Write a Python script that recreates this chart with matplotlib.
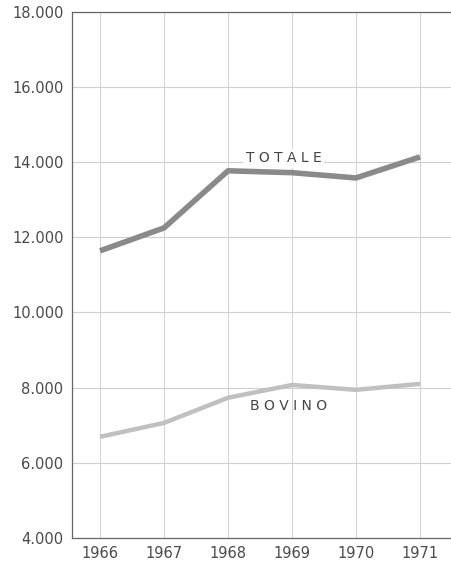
import numpy as np
import matplotlib
matplotlib.use('Agg')
import matplotlib.pyplot as plt

years = [1966, 1967, 1968, 1969, 1970, 1971]
totale = [11640, 12250, 13770, 13720, 13580, 14140]
bovino = [6690, 7060, 7730, 8070, 7940, 8100]
yticks = [4000, 6000, 8000, 10000, 12000, 14000, 16000, 18000]
ylabels = ['4.000', '6.000', '8.000', '10.000', '12.000', '14.000', '16.000', '18.000']

fig = plt.figure(figsize=(4.52, 5.65), dpi=100)
ax = fig.add_axes([0.159, 0.048, 0.841, 0.931])

# grid
for y in yticks:
    ax.axhline(y, color='#cfcfcf', lw=0.8, zorder=1)
for x in years:
    ax.axvline(x, color='#d4d4d4', lw=0.8, zorder=1)

ax.plot(years, totale, color='#8a8a8a', lw=4.0, solid_capstyle='butt', zorder=3)
ax.plot(years, bovino, color='#c0c0c0', lw=3.2, solid_capstyle='butt', zorder=3)

# letter-spaced labels like the original
ax.text(1968.87, 14100, 'T O T A L E', fontsize=10, color='#444444', ha='center', va='center',
        bbox=dict(facecolor='white', edgecolor='none', pad=2), zorder=4)
ax.text(1968.94, 7500, 'B O V I N O', fontsize=10, color='#444444', ha='center', va='center', zorder=4)

ax.set_xlim(1965.56, 1971.5)
ax.set_ylim(4000, 18000)
ax.set_xticks(years)
ax.set_xticklabels([str(y) for y in years])
ax.set_yticks(yticks)
ax.set_yticklabels(ylabels)
ax.tick_params(length=0, labelsize=10.5, colors='#4a4a4a')
ax.tick_params(axis='y', pad=6)
ax.tick_params(axis='x', pad=6)

for side in ['left', 'top', 'bottom']:
    ax.spines[side].set_color('#666666')
    ax.spines[side].set_linewidth(0.9)
ax.spines['right'].set_visible(False)

fig.savefig('out.png', dpi=100)
